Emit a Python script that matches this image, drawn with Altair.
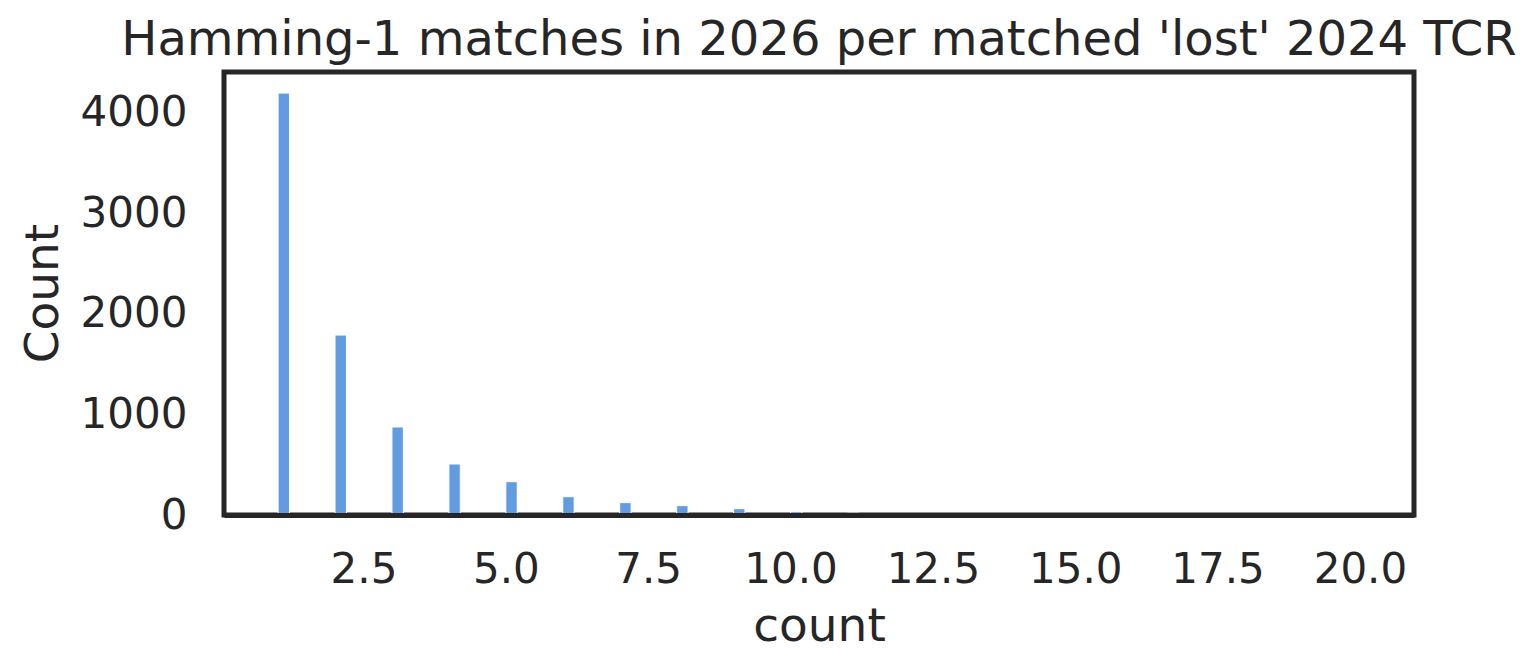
import altair as alt
import pandas as pd

# ---- data ----
match_counts = list(range(1, 21))
n_tcrs = [4195, 1789, 875, 507, 331, 182, 123, 93, 63, 33, 18, 10, 6, 4, 3, 2, 1, 1, 1, 1]
x_ticks = [2.5, 5.0, 7.5, 10.0, 12.5, 15.0, 17.5, 20.0]
y_ticks = [0, 1000, 2000, 3000, 4000]
chart_title = "Hamming-1 matches in 2026 per matched 'lost' 2024 TCR"
x_title = "count"
y_title = "Count"

N_BINS = 95
LO, HI = min(match_counts), max(match_counts)
BIN_W = (HI - LO) / N_BINS
X_DOMAIN = [LO - 0.05 * (HI - LO), HI + 0.05 * (HI - LO)]
Y_DOMAIN = [0, max(n_tcrs) * 1.05]

INK = "#262626"
FONT = "DejaVu Sans"
BAR = "#619ce0"

df = pd.DataFrame({"value": match_counts, "n": n_tcrs})

base = (
    alt.Chart(df)
    .transform_calculate(
        bin_start=f"min({LO} + floor((datum.value - {LO}) / {BIN_W} + 1e-9) * {BIN_W}, {HI} - {BIN_W})"
    )
    .transform_calculate(bin_end=f"datum.bin_start + {BIN_W}")
)

bars = base.mark_bar(color=BAR, stroke="white", strokeWidth=1).encode(
    x=alt.X(
        "bin_start:Q",
        scale=alt.Scale(domain=X_DOMAIN, nice=False, zero=False),
        axis=alt.Axis(
            values=x_ticks,
            format=".1f",
            title=x_title,
            labelBaseline="alphabetic",
            labelPadding=67,
            titleBaseline="alphabetic",
            titleY=125,
            domain=True,
            domainColor=INK,
            domainWidth=5,
            zindex=1,
        ),
    ),
    x2="bin_end:Q",
    y=alt.Y(
        "n:Q",
        scale=alt.Scale(domain=Y_DOMAIN, nice=False),
        axis=alt.Axis(
            values=y_ticks,
            format="d",
            title=y_title,
            labelPadding=37,
            labelAlign="right",
            labelBaseline="middle",
            titleAngle=-90,
            titleBaseline="alphabetic",
            titleAlign="center",
            titleX=-167,
            titleY=221,
            domain=False,
        ),
    ),
    y2=alt.datum(0),
)

chart = (
    bars.properties(
        width=1190,
        height=443,
        background="white",
        autosize=alt.AutoSizeParams(type="none"),
        padding={"left": 216, "top": 64, "right": 112, "bottom": 147},
        title=alt.TitleParams(
            chart_title,
            fontSize=48,
            font=FONT,
            fontWeight="normal",
            color=INK,
            anchor="middle",
            offset=7,
        ),
    )
    .configure_view(stroke=INK, strokeWidth=5)
    .configure_axis(
        labelFont=FONT,
        labelFontSize=42,
        labelColor=INK,
        titleFont=FONT,
        titleFontSize=47,
        titleFontWeight="normal",
        titleColor=INK,
        grid=False,
        ticks=False,
        tickSize=0,
        labelOverlap=False,
    )
)

chart.save("out.html", embed_options={"renderer": "svg", "actions": False})
